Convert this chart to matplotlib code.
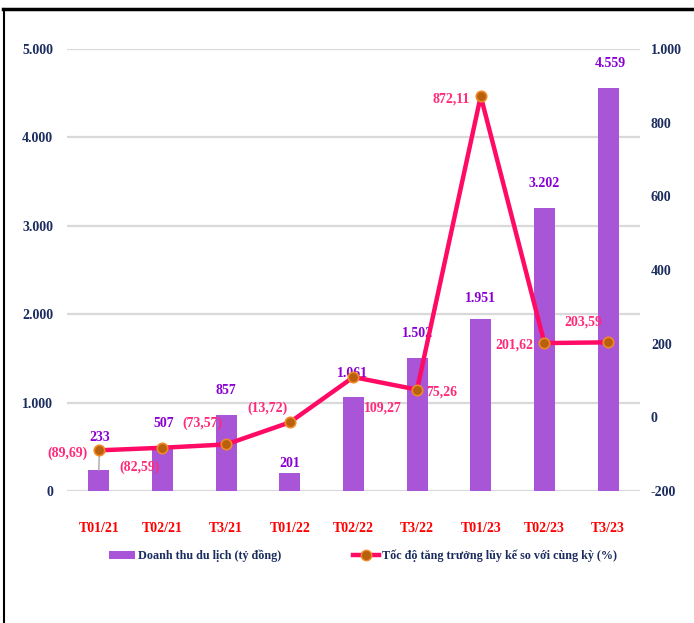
import matplotlib
matplotlib.use("Agg")
import matplotlib.pyplot as plt
from matplotlib.lines import Line2D
from matplotlib.patches import Patch

categories = ["T01/21", "T02/21", "T3/21", "T01/22", "T02/22", "T3/22", "T01/23", "T02/23", "T3/23"]
revenue = [233, 507, 857, 201, 1061, 1502, 1951, 3202, 4559]
growth = [-89.69, -82.59, -73.57, -13.72, 109.27, 75.26, 872.11, 201.62, 203.59]

left_ticks = [0, 1000, 2000, 3000, 4000, 5000]
right_ticks = [-200, 0, 200, 400, 600, 800, 1000]

bar_label_off = [(1, 33), (1, 23), (0, 25), (0, 10), (-1, 24), (0, 25), (0, 20), (0, 24), (2, 25)]
line_label_off = [(-11, -3, "right"), (-3, -20, "right"), (-4, 21, "right"), (-2, 14, "right"),
                  (11, -31, "left"), (9, -2, "left"), (-11, -3, "right"), (-11, -2, "right"),
                  (-25, 20, "center")]

FONT = "Liberation Serif"
BAR_C = "#A855D8"
BAR_LBL = "#8A00D4"
LINE_C = "#FF0A64"
LINE_LBL = "#FF2A78"
MK_FACE = "#B8600E"
MK_EDGE = "#F08A24"
NAVY = "#1B2C5E"
GRID = "#D9D9D9"

def fmt_int(v):
    return f"{v:,}".replace(",", ".")

def fmt_growth(v):
    s = f"{abs(v):.2f}".replace(".", ",")
    return f"({s})" if v < 0 else s

fig = plt.figure(figsize=(6.94, 6.23), dpi=100)
ax = fig.add_axes([0.0965, 0.2119, 0.8255, 0.7094])
ax2 = ax.twinx()

x = list(range(len(categories)))
ax.bar(x, revenue, width=0.33, color=BAR_C, zorder=2)
ax.set_ylim(0, 5000)
ax.set_xlim(-0.5, len(categories) - 0.5)
ax.set_yticks(left_ticks)
ax.set_yticklabels([fmt_int(t) for t in left_ticks])
ax.grid(axis="y", color=GRID, linewidth=1.6, zorder=0)
ax.set_axisbelow(True)
for s in ax.spines.values():
    s.set_visible(False)
for s in ax2.spines.values():
    s.set_visible(False)
ax.tick_params(axis="y", length=0, pad=10, labelcolor=NAVY)
ax.tick_params(axis="x", length=0, pad=22, labelcolor="#FF0000")
ax.set_xticks(x)
ax.set_xticklabels(categories)
for lbl in ax.get_xticklabels() + ax.get_yticklabels():
    lbl.set_fontfamily(FONT)
    lbl.set_fontweight("bold")
    lbl.set_fontsize(10)

ax2.plot(x, growth, color=LINE_C, linewidth=3.2, marker="o", markersize=7.5,
         markerfacecolor=MK_FACE, markeredgecolor=MK_EDGE, markeredgewidth=1.2, zorder=4)
ax2.set_ylim(-200, 1000)
ax2.set_yticks(right_ticks)
ax2.set_yticklabels([fmt_int(t) if t >= 0 else f"-{abs(t)}" for t in right_ticks])
ax2.tick_params(axis="y", length=0, pad=8, labelcolor=NAVY)
for lbl in ax2.get_yticklabels():
    lbl.set_fontfamily(FONT)
    lbl.set_fontweight("bold")
    lbl.set_fontsize(10)

# bar value labels
for i, v in enumerate(revenue):
    dx, dy = bar_label_off[i]
    kw = {}
    if i == 0:
        kw["arrowprops"] = dict(arrowstyle="-", color="#A6A6A6", lw=1, shrinkA=6, shrinkB=0)
    ax.annotate(fmt_int(v), xy=(i, v), xytext=(dx, dy), textcoords="offset pixels",
                ha="center", va="center", color=BAR_LBL, fontfamily=FONT,
                fontweight="bold", fontsize=10, zorder=6, annotation_clip=False, **kw)

# growth labels
for i, v in enumerate(growth):
    dx, dy, ha = line_label_off[i]
    ax2.annotate(fmt_growth(v), xy=(i, v), xytext=(dx, dy), textcoords="offset pixels",
                 ha=ha, va="center", color=LINE_LBL, fontfamily=FONT,
                 fontweight="bold", fontsize=10, zorder=6, annotation_clip=False)

handles = [Patch(facecolor=BAR_C, edgecolor="none"),
           Line2D([0], [0], color=LINE_C, linewidth=3.2, marker="o", markersize=7.5,
                  markerfacecolor=MK_FACE, markeredgecolor=MK_EDGE)]
labels = ["Doanh thu du lịch (tỷ đồng)", "Tốc độ tăng trưởng lũy kế so với cùng kỳ (%)"]
leg = fig.legend(handles, labels, loc="center", bbox_to_anchor=(0.523, 0.1075), ncol=2,
                 frameon=False, columnspacing=6, handlelength=2.1, handletextpad=0.25,
                 prop={"family": FONT, "weight": "bold", "size": 8.7})
for t in leg.get_texts():
    t.set_color(NAVY)

# frame lines
fig.add_artist(Line2D([0.005, 1.0], [1 - 9 / 623, 1 - 9 / 623], color="black", lw=2.5,
                      transform=fig.transFigure))
fig.add_artist(Line2D([0.006, 0.006], [0, 1 - 9 / 623], color="black", lw=1.5,
                      transform=fig.transFigure))

fig.savefig("out.png", dpi=100)
